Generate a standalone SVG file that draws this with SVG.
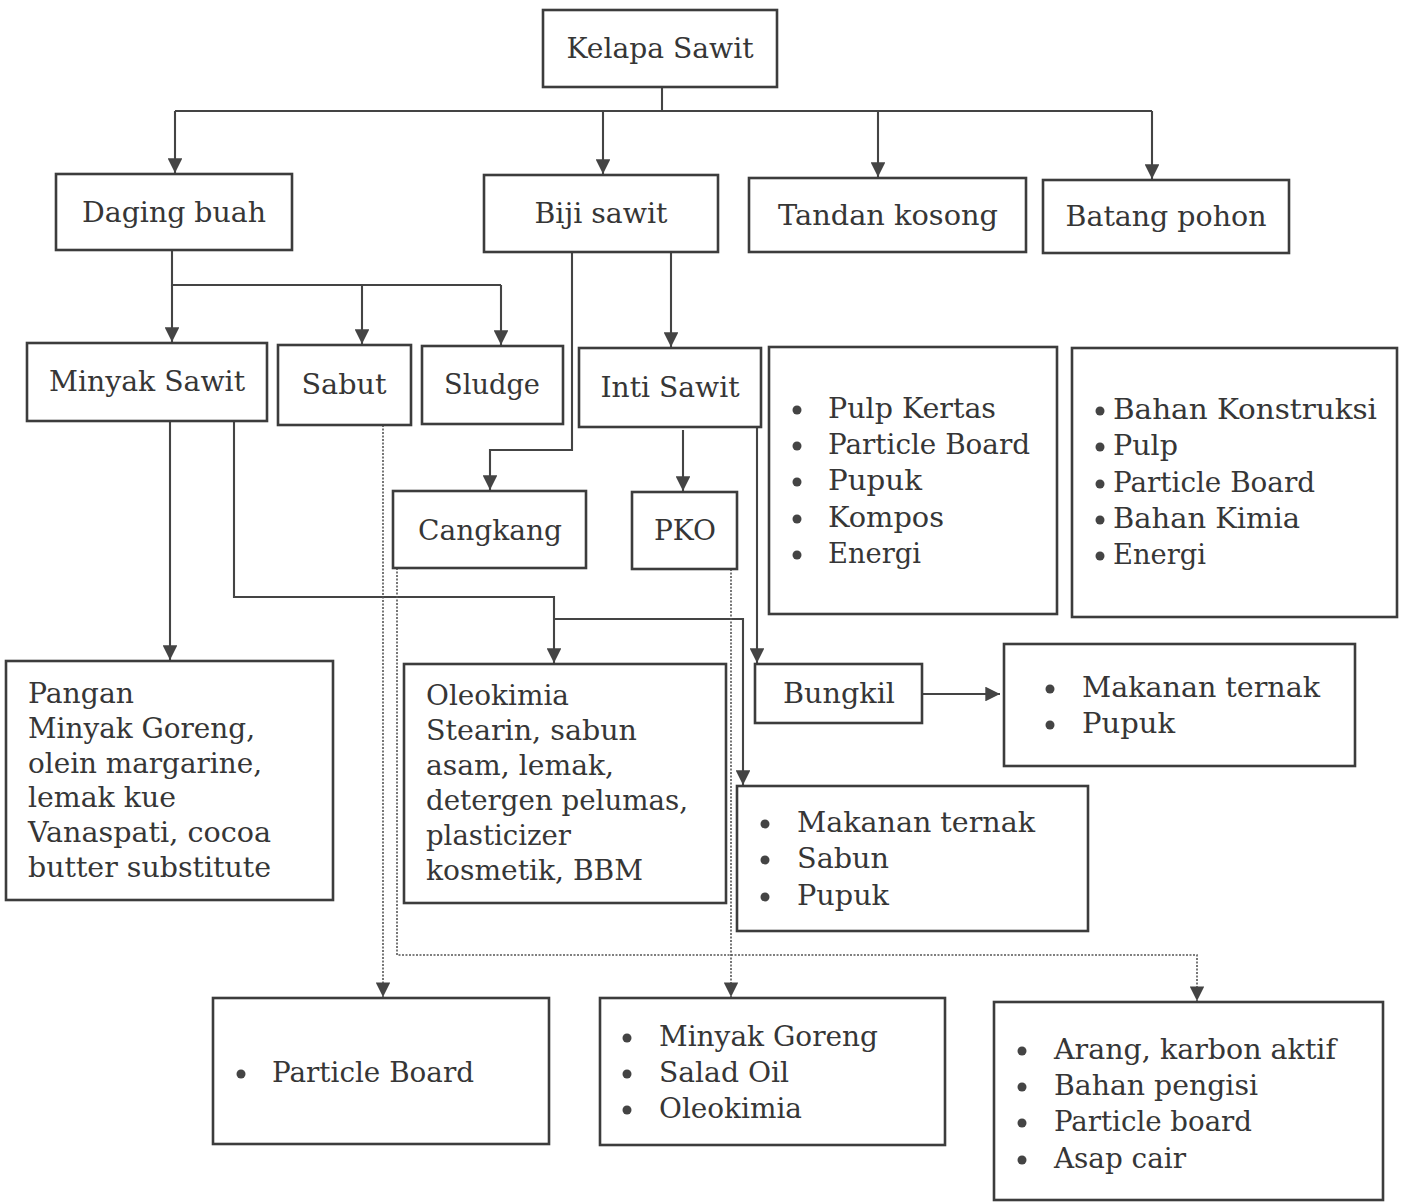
<svg xmlns="http://www.w3.org/2000/svg" width="1402" height="1202" viewBox="0 0 1402 1202">
  <style>
    .box { fill: #ffffff; stroke: #3c3c3c; stroke-width: 2.6; }
    .t { font-family: "DejaVu Serif", "Liberation Serif", serif; font-size: 28px; fill: #363636; }
    .c { text-anchor: middle; }
    .line { fill: none; stroke: #444444; stroke-width: 2.1; }
    .dot { fill: none; stroke: #555555; stroke-width: 1.6; stroke-dasharray: 2 1.5; }
    .b { fill: #444444; }
  </style>
  <defs>
    <marker id="arrow" viewBox="0 0 10 10" refX="10" refY="5" markerWidth="7.5" markerHeight="7" markerUnits="strokeWidth" orient="auto">
      <path d="M0,0 L10,5 L0,10 Z" fill="#444444"/>
    </marker>
    <marker id="arrowDot" viewBox="0 0 10 10" refX="10" refY="5" markerWidth="9.5" markerHeight="9" markerUnits="strokeWidth" orient="auto">
      <path d="M0,0 L10,5 L0,10 Z" fill="#444444"/>
    </marker>
  </defs>
  <rect width="1402" height="1202" fill="#ffffff"/>

  <!-- connectors: solid = direct products, dotted = secondary products -->
  <g id="connectors">
    <path class="line" d="M662,87 V111"/>
    <path class="line" d="M175,111 H1152"/>
    <path class="line" d="M175,111 V173" marker-end="url(#arrow)"/>
    <path class="line" d="M603,111 V174" marker-end="url(#arrow)"/>
    <path class="line" d="M878,111 V177" marker-end="url(#arrow)"/>
    <path class="line" d="M1152,111 V179" marker-end="url(#arrow)"/>

    <path class="line" d="M172,250 V285 H501"/>
    <path class="line" d="M172,285 V342" marker-end="url(#arrow)"/>
    <path class="line" d="M362,285 V344" marker-end="url(#arrow)"/>
    <path class="line" d="M501,285 V345" marker-end="url(#arrow)"/>

    <path class="line" d="M572,252 V450 H490 V490" marker-end="url(#arrow)"/>
    <path class="line" d="M671,252 V347" marker-end="url(#arrow)"/>
    <path class="line" d="M683,430 V491" marker-end="url(#arrow)"/>
    <path class="line" d="M757,427 V663" marker-end="url(#arrow)"/>
    <path class="line" d="M922,694 H1000" marker-end="url(#arrow)"/>

    <path class="line" d="M170,421 V660" marker-end="url(#arrow)"/>
    <path class="line" d="M234,421 V597 H554 V663" marker-end="url(#arrow)"/>
    <path class="line" d="M554,619 H743 V785" marker-end="url(#arrow)"/>

    <path class="dot" d="M383,425 V997" marker-end="url(#arrowDot)"/>
    <path class="dot" d="M397,568 V955 H1197 V1001" marker-end="url(#arrowDot)"/>
    <path class="dot" d="M731,569 V997" marker-end="url(#arrowDot)"/>
  </g>

  <g id="kelapa-sawit">
    <rect class="box" x="543" y="10" width="234" height="77"/>
    <text class="t c" x="660" y="58" textLength="187" lengthAdjust="spacingAndGlyphs">Kelapa Sawit</text>
  </g>
  <g id="daging-buah">
    <rect class="box" x="56" y="174" width="236" height="76"/>
    <text class="t c" x="174" y="222" textLength="184" lengthAdjust="spacingAndGlyphs">Daging buah</text>
  </g>
  <g id="biji-sawit">
    <rect class="box" x="484" y="175" width="234" height="77"/>
    <text class="t c" x="601" y="223" textLength="133" lengthAdjust="spacingAndGlyphs">Biji sawit</text>
  </g>
  <g id="tandan-kosong">
    <rect class="box" x="749" y="178" width="277" height="74"/>
    <text class="t c" x="888" y="225" textLength="220" lengthAdjust="spacingAndGlyphs">Tandan kosong</text>
  </g>
  <g id="batang-pohon">
    <rect class="box" x="1043" y="180" width="246" height="73"/>
    <text class="t c" x="1166" y="226" textLength="201" lengthAdjust="spacingAndGlyphs">Batang pohon</text>
  </g>

  <g id="minyak-sawit">
    <rect class="box" x="27" y="343" width="240" height="78"/>
    <text class="t c" x="147" y="391" textLength="196" lengthAdjust="spacingAndGlyphs">Minyak Sawit</text>
  </g>
  <g id="sabut">
    <rect class="box" x="278" y="345" width="133" height="80"/>
    <text class="t c" x="344" y="394" textLength="85" lengthAdjust="spacingAndGlyphs">Sabut</text>
  </g>
  <g id="sludge">
    <rect class="box" x="422" y="346" width="141" height="78"/>
    <text class="t c" x="492" y="394" textLength="96" lengthAdjust="spacingAndGlyphs">Sludge</text>
  </g>
  <g id="inti-sawit">
    <rect class="box" x="579" y="348" width="182" height="79"/>
    <text class="t c" x="670" y="397" textLength="139" lengthAdjust="spacingAndGlyphs">Inti Sawit</text>
  </g>

  <g id="tandan-produk">
    <rect class="box" x="769" y="347" width="288" height="267"/>
    <circle class="b" cx="797" cy="410" r="4.5"/>
    <circle class="b" cx="797" cy="446" r="4.5"/>
    <circle class="b" cx="797" cy="482" r="4.5"/>
    <circle class="b" cx="797" cy="519" r="4.5"/>
    <circle class="b" cx="797" cy="555" r="4.5"/>
    <text class="t" x="828" y="418" textLength="168" lengthAdjust="spacingAndGlyphs">Pulp Kertas</text>
    <text class="t" x="828" y="454" textLength="202" lengthAdjust="spacingAndGlyphs">Particle Board</text>
    <text class="t" x="828" y="490" textLength="94" lengthAdjust="spacingAndGlyphs">Pupuk</text>
    <text class="t" x="828" y="527" textLength="116" lengthAdjust="spacingAndGlyphs">Kompos</text>
    <text class="t" x="828" y="563" textLength="93" lengthAdjust="spacingAndGlyphs">Energi</text>
  </g>
  <g id="batang-produk">
    <rect class="box" x="1072" y="348" width="325" height="269"/>
    <circle class="b" cx="1100" cy="411" r="4.5"/>
    <circle class="b" cx="1100" cy="447" r="4.5"/>
    <circle class="b" cx="1100" cy="484" r="4.5"/>
    <circle class="b" cx="1100" cy="520" r="4.5"/>
    <circle class="b" cx="1100" cy="556" r="4.5"/>
    <text class="t" x="1113" y="419" textLength="264" lengthAdjust="spacingAndGlyphs">Bahan Konstruksi</text>
    <text class="t" x="1113" y="455" textLength="65" lengthAdjust="spacingAndGlyphs">Pulp</text>
    <text class="t" x="1113" y="492" textLength="202" lengthAdjust="spacingAndGlyphs">Particle Board</text>
    <text class="t" x="1113" y="528" textLength="187" lengthAdjust="spacingAndGlyphs">Bahan Kimia</text>
    <text class="t" x="1113" y="564" textLength="93" lengthAdjust="spacingAndGlyphs">Energi</text>
  </g>

  <g id="cangkang">
    <rect class="box" x="393" y="491" width="193" height="77"/>
    <text class="t c" x="490" y="540" textLength="144" lengthAdjust="spacingAndGlyphs">Cangkang</text>
  </g>
  <g id="pko">
    <rect class="box" x="632" y="492" width="105" height="77"/>
    <text class="t c" x="685" y="540" textLength="62" lengthAdjust="spacingAndGlyphs">PKO</text>
  </g>

  <g id="pangan">
    <rect class="box" x="6" y="661" width="327" height="239"/>
    <text class="t" x="28" y="703" textLength="106" lengthAdjust="spacingAndGlyphs">Pangan</text>
    <text class="t" x="28" y="738" textLength="227" lengthAdjust="spacingAndGlyphs">Minyak Goreng,</text>
    <text class="t" x="28" y="773" textLength="234" lengthAdjust="spacingAndGlyphs">olein margarine,</text>
    <text class="t" x="28" y="807" textLength="148" lengthAdjust="spacingAndGlyphs">lemak kue</text>
    <text class="t" x="28" y="842" textLength="243" lengthAdjust="spacingAndGlyphs">Vanaspati, cocoa</text>
    <text class="t" x="28" y="877" textLength="243" lengthAdjust="spacingAndGlyphs">butter substitute</text>
  </g>
  <g id="oleokimia">
    <rect class="box" x="404" y="664" width="322" height="239"/>
    <text class="t" x="426" y="705" textLength="143" lengthAdjust="spacingAndGlyphs">Oleokimia</text>
    <text class="t" x="426" y="740" textLength="211" lengthAdjust="spacingAndGlyphs">Stearin, sabun</text>
    <text class="t" x="426" y="775" textLength="188" lengthAdjust="spacingAndGlyphs">asam, lemak,</text>
    <text class="t" x="426" y="810" textLength="262" lengthAdjust="spacingAndGlyphs">detergen pelumas,</text>
    <text class="t" x="426" y="845" textLength="145" lengthAdjust="spacingAndGlyphs">plasticizer</text>
    <text class="t" x="426" y="880" textLength="217" lengthAdjust="spacingAndGlyphs">kosmetik, BBM</text>
  </g>

  <g id="bungkil">
    <rect class="box" x="755" y="664" width="167" height="59"/>
    <text class="t c" x="839" y="703" textLength="112" lengthAdjust="spacingAndGlyphs">Bungkil</text>
  </g>
  <g id="bungkil-produk">
    <rect class="box" x="1004" y="644" width="351" height="122"/>
    <circle class="b" cx="1050" cy="689" r="4.5"/>
    <circle class="b" cx="1050" cy="725" r="4.5"/>
    <text class="t" x="1082" y="697" textLength="238" lengthAdjust="spacingAndGlyphs">Makanan ternak</text>
    <text class="t" x="1082" y="733" textLength="93" lengthAdjust="spacingAndGlyphs">Pupuk</text>
  </g>
  <g id="minyak-produk">
    <rect class="box" x="737" y="786" width="351" height="145"/>
    <circle class="b" cx="765" cy="824" r="4.5"/>
    <circle class="b" cx="765" cy="860" r="4.5"/>
    <circle class="b" cx="765" cy="897" r="4.5"/>
    <text class="t" x="797" y="832" textLength="238" lengthAdjust="spacingAndGlyphs">Makanan ternak</text>
    <text class="t" x="797" y="868" textLength="92" lengthAdjust="spacingAndGlyphs">Sabun</text>
    <text class="t" x="797" y="905" textLength="92" lengthAdjust="spacingAndGlyphs">Pupuk</text>
  </g>

  <g id="sabut-produk">
    <rect class="box" x="213" y="998" width="336" height="146"/>
    <circle class="b" cx="241" cy="1074" r="4.5"/>
    <text class="t" x="272" y="1082" textLength="202" lengthAdjust="spacingAndGlyphs">Particle Board</text>
  </g>
  <g id="pko-produk">
    <rect class="box" x="600" y="998" width="345" height="147"/>
    <circle class="b" cx="627" cy="1038" r="4.5"/>
    <circle class="b" cx="627" cy="1074" r="4.5"/>
    <circle class="b" cx="627" cy="1110" r="4.5"/>
    <text class="t" x="659" y="1046" textLength="219" lengthAdjust="spacingAndGlyphs">Minyak Goreng</text>
    <text class="t" x="659" y="1082" textLength="130" lengthAdjust="spacingAndGlyphs">Salad Oil</text>
    <text class="t" x="659" y="1118" textLength="143" lengthAdjust="spacingAndGlyphs">Oleokimia</text>
  </g>
  <g id="cangkang-produk">
    <rect class="box" x="994" y="1002" width="389" height="198"/>
    <circle class="b" cx="1022" cy="1051" r="4.5"/>
    <circle class="b" cx="1022" cy="1087" r="4.5"/>
    <circle class="b" cx="1022" cy="1123" r="4.5"/>
    <circle class="b" cx="1022" cy="1160" r="4.5"/>
    <text class="t" x="1054" y="1059" textLength="282" lengthAdjust="spacingAndGlyphs">Arang, karbon aktif</text>
    <text class="t" x="1054" y="1095" textLength="204" lengthAdjust="spacingAndGlyphs">Bahan pengisi</text>
    <text class="t" x="1054" y="1131" textLength="198" lengthAdjust="spacingAndGlyphs">Particle board</text>
    <text class="t" x="1054" y="1168" textLength="132" lengthAdjust="spacingAndGlyphs">Asap cair</text>
  </g>
</svg>
